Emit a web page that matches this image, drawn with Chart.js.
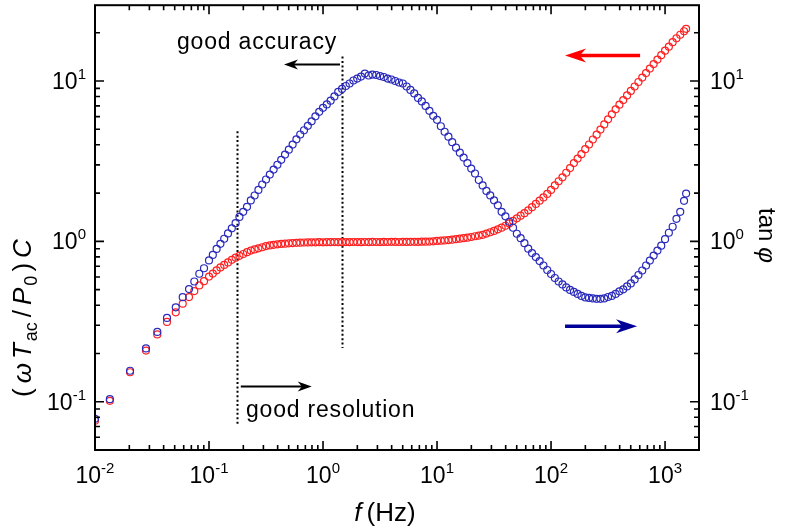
<!DOCTYPE html>
<html>
<head>
<meta charset="utf-8">
<script src="https://cdn.jsdelivr.net/npm/chart.js@4.4.1/dist/chart.umd.min.js"></script>
<style>
    html, body { margin: 0; padding: 0; background: #fff; }
    #wrap { width: 789px; height: 529px; }
</style>
</head>
<body>
<div id="wrap"><canvas id="chart" width="789" height="529"></canvas></div>
<script>
// 量測頻率 (Hz)
const freqHz = [
    0.0100, 0.0135, 0.0203, 0.0280, 0.0352, 0.0428, 0.0511, 0.0588, 0.0668, 0.0743, 0.0822, 0.0904,
    0.1000, 0.1080, 0.1166, 0.1259, 0.1359, 0.1468, 0.1585, 0.1711, 0.1848, 0.1995,
    0.2154, 0.2326, 0.2512, 0.2712, 0.2929, 0.3162, 0.3415, 0.3687, 0.3981, 0.4299,
    0.4642, 0.5012, 0.5412, 0.5843, 0.6310, 0.6813, 0.7356, 0.7943, 0.8577, 0.9261,
    1.000, 1.080, 1.166, 1.259, 1.359, 1.468, 1.585, 1.711, 1.848, 1.995,
    2.154, 2.326, 2.512, 2.712, 2.929, 3.162, 3.415, 3.687, 3.981, 4.299,
    4.642, 5.012, 5.412, 5.843, 6.310, 6.813, 7.356, 7.943, 8.577, 9.261,
    10.00, 10.80, 11.66, 12.59, 13.59, 14.68, 15.85, 17.11, 18.48, 19.95,
    21.54, 23.26, 25.12, 27.12, 29.29, 31.62, 34.15, 36.87, 39.81, 42.99,
    46.42, 50.12, 54.12, 58.43, 63.10, 68.13, 73.56, 79.43, 85.77, 92.61,
    100.0, 108.0, 116.6, 125.9, 135.9, 146.8, 158.5, 171.1, 184.8, 199.5,
    215.4, 232.6, 251.2, 271.2, 292.9, 316.2, 341.5, 368.7, 398.1, 429.9,
    464.2, 501.2, 541.2, 584.3, 631.0, 681.3, 735.6, 794.3, 857.7, 926.1,
    1000, 1080, 1166, 1259, 1359, 1468, 1530
];

// (ωT_ac/P_0)C，紅色
const capacity = [
    0.0761, 0.1013, 0.1527, 0.2084, 0.2627, 0.3145, 0.3611, 0.4089, 0.4495, 0.4896, 0.5313, 0.5647,
    0.603, 0.630, 0.660, 0.688, 0.713, 0.739, 0.767, 0.791, 0.813, 0.834,
    0.856, 0.876, 0.891, 0.905, 0.919, 0.934, 0.943, 0.951, 0.958, 0.964,
    0.968, 0.972, 0.976, 0.979, 0.982, 0.984, 0.985, 0.987, 0.986, 0.988,
    0.987, 0.989, 0.988, 0.990, 0.989, 0.988, 0.990, 0.989, 0.991, 0.990,
    0.989, 0.991, 0.990, 0.992, 0.991, 0.990, 0.992, 0.991, 0.993, 0.992,
    0.991, 0.993, 0.992, 0.994, 0.993, 0.992, 0.995, 0.996, 0.997, 1.001,
    1.006, 1.010, 1.014, 1.019, 1.025, 1.032, 1.039, 1.047, 1.054, 1.065,
    1.076, 1.086, 1.099, 1.118, 1.140, 1.162, 1.189, 1.218, 1.251, 1.293,
    1.344, 1.393, 1.447, 1.500, 1.561, 1.635, 1.713, 1.794, 1.880, 1.976,
    2.093, 2.232, 2.370, 2.509, 2.679, 2.866, 3.078, 3.282, 3.499, 3.760,
    4.020, 4.317, 4.630, 4.982, 5.364, 5.771, 6.197, 6.656, 7.117, 7.601,
    8.128, 8.670, 9.245, 9.858, 10.51, 11.21, 11.96, 12.75, 13.60, 14.50,
    15.46, 16.37, 17.46, 18.48, 19.43, 20.43, 21.17
];

// tan φ，藍色
const tanPhi = [
    0.0783, 0.1038, 0.156, 0.215, 0.2726, 0.333, 0.388, 0.449, 0.504, 0.562, 0.628, 0.680,
    0.761, 0.823, 0.897, 0.965, 1.038, 1.121, 1.206, 1.299, 1.421, 1.529,
    1.642, 1.799, 1.932, 2.093, 2.263, 2.432, 2.608, 2.802, 3.004, 3.227,
    3.479, 3.733, 4.015, 4.330, 4.638, 4.931, 5.258, 5.609, 6.024, 6.424,
    6.800, 7.149, 7.539, 8.014, 8.546, 8.923, 9.311, 9.650, 10.07, 10.36,
    10.66, 11.13, 10.82, 10.97, 10.90, 10.74, 10.59, 10.36, 10.22, 10.00,
    9.788, 9.650, 9.245, 8.796, 8.366, 7.844, 7.463, 6.997, 6.516, 6.067,
    5.731, 5.221, 4.827, 4.494, 4.155, 3.841, 3.576, 3.330, 3.078, 2.846,
    2.650, 2.414, 2.232, 2.063, 1.935, 1.802, 1.677, 1.529, 1.433, 1.325,
    1.216, 1.116, 1.047, 0.975, 0.901, 0.845, 0.798, 0.754, 0.707, 0.663,
    0.626, 0.591, 0.562, 0.539, 0.516, 0.498, 0.484, 0.470, 0.457, 0.447,
    0.444, 0.441, 0.438, 0.438, 0.441, 0.450, 0.457, 0.470, 0.488, 0.502,
    0.524, 0.547, 0.579, 0.617, 0.658, 0.707, 0.759, 0.815, 0.876, 0.940,
    1.032, 1.132, 1.234, 1.383, 1.529, 1.789, 1.985
];

// 刻度標籤 (10 的次方)
const xTickExps = [-2, -1, 0, 1, 2, 3];
const yTickExps = [-1, 0, 1];
const xRange = [0.01, 1985];
const yRange = [0.05, 29.7];

// 標註：解析度 / 精確度界線 (資料座標)
const resolutionLine = { f: 0.175, from: 0.072, to: 4.86 };
const accuracyLine = { f: 1.47, from: 0.216, to: 14.2 };
const resolutionArrow = { from: 0.19, to: 0.796, y: 0.1246 };
const accuracyArrow = { from: 1.41, to: 0.455, y: 12.66 };
const capacityArrow = { from: 604, to: 132.7, y: 14.4 };
const tanArrow = { from: 132.7, to: 568, y: 0.296 };
const resolutionText = { f: 0.211, y: 0.0806, text: 'good resolution' };
const accuracyText = { f: 0.0524, y: 15.9, text: 'good accuracy' };

const FONT = '"Liberation Sans", Arial, Helvetica, sans-serif';

function runsWidth(ctx, runs) {
    let w = 0;
    runs.forEach(r => {
        ctx.font = r.font;
        w += ctx.measureText(r.text).width + (r.gap || 0);
    });
    return w;
}

function drawRuns(ctx, runs, x, y) {
    let cx = x;
    runs.forEach(r => {
        ctx.font = r.font;
        ctx.fillText(r.text, cx, y + (r.dy || 0));
        cx += ctx.measureText(r.text).width + (r.gap || 0);
    });
}

function powerRuns(exp) {
    return [
        { text: '10', font: `23px ${FONT}` },
        { text: String(exp), font: `15px ${FONT}`, dy: -10 }
    ];
}

function logTicks(min, max) {
    const list = [];
    for (let d = Math.floor(Math.log10(min)); d <= Math.ceil(Math.log10(max)); d++) {
        for (let m = 1; m <= 9; m++) {
            const v = m * Math.pow(10, d);
            if (v >= min && v <= max) list.push({ v, major: m === 1 });
        }
    }
    return list;
}

function drawArrow(ctx, x1, y1, x2, y2, color, width, headLen, headHalf) {
    const dir = Math.sign(x2 - x1);
    ctx.save();
    ctx.strokeStyle = color;
    ctx.fillStyle = color;
    ctx.lineWidth = width;
    ctx.beginPath();
    ctx.moveTo(x1, y1);
    ctx.lineTo(x2 - dir * headLen * 0.6, y2);
    ctx.stroke();
    ctx.beginPath();
    ctx.moveTo(x2, y2);
    ctx.lineTo(x2 - dir * headLen, y2 - headHalf);
    ctx.lineTo(x2 - dir * headLen * 0.7, y2);
    ctx.lineTo(x2 - dir * headLen, y2 + headHalf);
    ctx.closePath();
    ctx.fill();
    ctx.restore();
}

// 標註繪製 (資料點之下)
const notesPlugin = {
    id: 'notes',
    beforeDatasetsDraw(chart) {
        const { ctx } = chart;
        const x = chart.scales.x;
        const y = chart.scales.y;

        ctx.save();
        ctx.strokeStyle = '#000';
        ctx.lineWidth = 2;
        ctx.setLineDash([2, 2.4]);
        [resolutionLine, accuracyLine].forEach(l => {
            const px = Math.round(x.getPixelForValue(l.f)) + 0.5;
            ctx.beginPath();
            ctx.moveTo(px, y.getPixelForValue(l.to));
            ctx.lineTo(px, y.getPixelForValue(l.from));
            ctx.stroke();
        });
        ctx.restore();

        [resolutionArrow, accuracyArrow].forEach(a => {
            const py = y.getPixelForValue(a.y);
            drawArrow(ctx, x.getPixelForValue(a.from), py, x.getPixelForValue(a.to), py, '#000', 2, 14, 5);
        });
        let py = y.getPixelForValue(capacityArrow.y);
        drawArrow(ctx, x.getPixelForValue(capacityArrow.from), py, x.getPixelForValue(capacityArrow.to), py, '#ff0000', 3.5, 21, 7);
        py = y.getPixelForValue(tanArrow.y);
        drawArrow(ctx, x.getPixelForValue(tanArrow.from), py, x.getPixelForValue(tanArrow.to), py, '#000099', 3.5, 21, 7);

        ctx.save();
        ctx.fillStyle = '#000';
        ctx.textBaseline = 'alphabetic';
        ctx.font = `23px ${FONT}`;
        ctx.letterSpacing = '0.8px';
        [resolutionText, accuracyText].forEach(t => {
            ctx.fillText(t.text, x.getPixelForValue(t.f), y.getPixelForValue(t.y));
        });
        ctx.restore();
    }
};

// 外框、內向刻度與軸標題
const axesPlugin = {
    id: 'paperAxes',
    afterDatasetsDraw(chart) {
        const { ctx, chartArea: a } = chart;
        const x = chart.scales.x;
        const y = chart.scales.y;

        ctx.save();
        ctx.strokeStyle = '#000';
        ctx.lineWidth = 1.6;
        logTicks(xRange[0], xRange[1]).forEach(t => {
            const px = x.getPixelForValue(t.v);
            const len = t.major ? 9 : 5;
            ctx.beginPath();
            ctx.moveTo(px, a.bottom); ctx.lineTo(px, a.bottom - len);
            ctx.moveTo(px, a.top); ctx.lineTo(px, a.top + len);
            ctx.stroke();
        });
        logTicks(yRange[0], yRange[1]).forEach(t => {
            const py = y.getPixelForValue(t.v);
            const len = t.major ? 9 : 5;
            ctx.beginPath();
            ctx.moveTo(a.left, py); ctx.lineTo(a.left + len, py);
            ctx.moveTo(a.right, py); ctx.lineTo(a.right - len, py);
            ctx.stroke();
        });
        ctx.lineWidth = 2;
        ctx.strokeRect(a.left, a.top, a.right - a.left, a.bottom - a.top);

        // 刻度標籤
        ctx.fillStyle = '#000';
        ctx.textBaseline = 'alphabetic';
        xTickExps.forEach(e => {
            const runs = powerRuns(e);
            const w = runsWidth(ctx, runs);
            drawRuns(ctx, runs, x.getPixelForValue(Math.pow(10, e)) - w / 2, a.bottom + 33);
        });
        yTickExps.forEach(e => {
            const runs = powerRuns(e);
            const w = runsWidth(ctx, runs);
            const py = y.getPixelForValue(Math.pow(10, e)) + 8;
            drawRuns(ctx, runs, a.left - 9 - w, py);
            drawRuns(ctx, runs, a.right + 11, py);
        });

        // x 軸標題
        const xTitle = [
            { text: 'f', font: `italic 26px ${FONT}`, gap: 5 },
            { text: '(Hz)', font: `26px ${FONT}` }
        ];
        const xw = runsWidth(ctx, xTitle);
        drawRuns(ctx, xTitle, (a.left + a.right) / 2 - 12 - xw / 2, a.bottom + 71);

        // 左 y 軸標題
        const yTitle = [
            { text: '(', font: `26px ${FONT}`, gap: 5 },
            { text: 'ω', font: `italic 26px ${FONT}`, gap: 4 },
            { text: 'T', font: `italic 26px ${FONT}`, gap: 2 },
            { text: 'ac', font: `18px ${FONT}`, dy: 6, gap: 5 },
            { text: '/', font: `26px ${FONT}`, gap: 5 },
            { text: 'P', font: `italic 26px ${FONT}`, gap: 2 },
            { text: '0', font: `18px ${FONT}`, dy: 6, gap: 4 },
            { text: ')', font: `26px ${FONT}`, gap: 5 },
            { text: 'C', font: `italic 26px ${FONT}` }
        ];
        ctx.save();
        ctx.translate(31, 397);
        ctx.rotate(-Math.PI / 2);
        drawRuns(ctx, yTitle, 0, 0);
        ctx.restore();

        // 右 y 軸標題
        const y2Title = [
            { text: 'tan', font: `24px ${FONT}`, gap: 6 },
            { text: 'φ', font: `italic 24px ${FONT}` }
        ];
        ctx.save();
        ctx.translate(759, 208);
        ctx.rotate(Math.PI / 2);
        drawRuns(ctx, y2Title, 0, 0);
        ctx.restore();
        ctx.restore();
    }
};

const hiddenAxis = {
    type: 'logarithmic',
    min: yRange[0],
    max: yRange[1],
    ticks: { display: false },
    grid: { display: false },
    border: { display: false }
};

new Chart(document.getElementById('chart'), {
    type: 'scatter',
    data: {
        datasets: [
            {
                label: 'tan φ',
                yAxisID: 'y2',
                data: freqHz.map((f, i) => ({ x: f, y: tanPhi[i] })),
                borderColor: '#2a2abb',
                backgroundColor: 'rgba(255,255,255,0)',
                pointRadius: 3.5,
                pointBorderWidth: 1.2,
                order: 0
            },
            {
                label: '(ωTac/P0)C',
                yAxisID: 'y',
                data: freqHz.map((f, i) => ({ x: f, y: capacity[i] })),
                borderColor: '#ff2020',
                backgroundColor: 'rgba(255,255,255,0)',
                pointRadius: 3.5,
                pointBorderWidth: 1.2,
                order: 1
            }
        ]
    },
    options: {
        responsive: false,
        animation: false,
        devicePixelRatio: 1,
        layout: { padding: { top: 3, left: 0, right: 0, bottom: 0 } },
        plugins: {
            legend: { display: false },
            tooltip: { enabled: false }
        },
        scales: {
            x: {
                type: 'logarithmic',
                position: 'bottom',
                min: xRange[0],
                max: xRange[1],
                ticks: { display: false },
                grid: { display: false },
                border: { display: false },
                afterFit: s => { s.height = 79; }
            },
            y: { ...hiddenAxis, position: 'left', afterFit: s => { s.width = 95; } },
            y2: { ...hiddenAxis, position: 'right', afterFit: s => { s.width = 90; } }
        }
    },
    plugins: [notesPlugin, axesPlugin]
});
</script>
</body>
</html>
